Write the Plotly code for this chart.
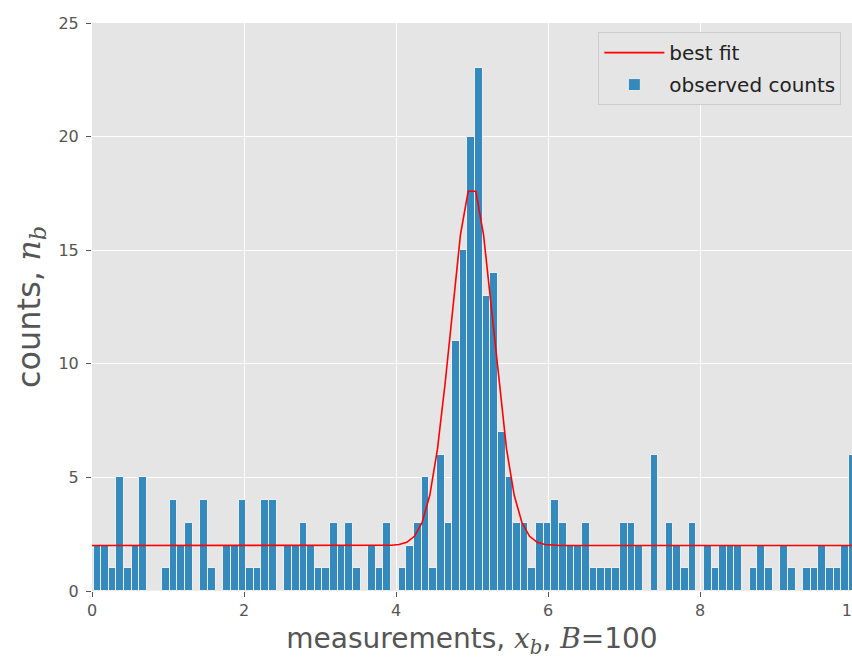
import numpy as np
import plotly.graph_objects as go

# Histogram of measurements: B = 100 bins
n_bins = 100
x_first_edge = 0.02
x_last_edge = 10.06
counts = [
    2, 2, 1, 5, 1, 2, 5, 0, 0, 1,
    4, 2, 3, 0, 4, 1, 0, 2, 2, 4,
    1, 1, 4, 4, 0, 2, 2, 3, 2, 1,
    1, 3, 2, 3, 1, 0, 2, 1, 3, 0,
    1, 2, 3, 5, 1, 6, 3, 11, 15, 20,
    23, 13, 14, 7, 5, 3, 3, 1, 3, 3,
    4, 3, 2, 2, 3, 1, 1, 1, 1, 3,
    3, 2, 0, 6, 0, 3, 2, 1, 3, 0,
    2, 1, 2, 2, 2, 0, 1, 2, 1, 0,
    2, 1, 0, 1, 1, 2, 1, 1, 2, 6,
]

# Best-fit model: constant background plus a Gaussian peak
fit_background = 2.0
fit_amplitude = 15.85
fit_center = 5.0
fit_sigma = 0.28
fit_points = 100

x_ticks = [0, 2, 4, 6, 8, 10]
y_ticks = [0, 5, 10, 15, 20, 25]

edges = np.linspace(x_first_edge, x_last_edge, n_bins + 1)
bin_left = edges[:-1]
bin_width = edges[1] - edges[0]

x_fit = np.linspace(0, 10, fit_points)
y_fit = fit_background + fit_amplitude * np.exp(-(x_fit - fit_center) ** 2 / (2 * fit_sigma ** 2))

fig = go.Figure()
fig.add_trace(go.Bar(
    x=bin_left, y=counts, width=bin_width, offset=0,
    marker=dict(color="#348ABD", line=dict(color="#EEEEEE", width=1)),
    name="observed counts", legendgroup="b", legendrank=2,
))
fig.add_trace(go.Scatter(
    x=x_fit, y=y_fit, mode="lines",
    line=dict(color="red", width=1.6),
    name="best fit", legendgroup="a", legendrank=1,
))

axis_font = dict(family="DejaVu Sans", size=16, color="#555555")
math = "font-family:'DejaVu Serif';font-style:italic"

fig.update_layout(
    width=852, height=659,
    margin=dict(l=92, r=0, t=23, b=68),
    paper_bgcolor="white",
    plot_bgcolor="#E5E5E5",
    bargap=0,
    showlegend=True,
    legend=dict(
        x=0.986, y=0.984, xanchor="right", yanchor="top",
        bgcolor="#E5E5E5", bordercolor="#CCCCCC", borderwidth=1,
        font=dict(family="DejaVu Sans", size=20, color="#222222"),
        traceorder="grouped", tracegroupgap=3, itemwidth=60,
    ),
    xaxis=dict(
        range=[0, 10], tickvals=x_ticks, ticktext=[str(v) for v in x_ticks],
        showgrid=True, gridcolor="white", gridwidth=1, zeroline=False,
        ticks="outside", ticklen=5, tickcolor="#555555", tickfont=axis_font,
        ticklabeloverflow="allow",
        showline=False, automargin=False,
        title=dict(
            text=f"measurements, <span style=\"{math}\">x</span><sub><span style=\"{math}\">b</span></sub>, "
                 f"<span style=\"{math}\">B</span>=100",
            font=dict(family="DejaVu Sans", size=28, color="#555555"), standoff=9,
        ),
    ),
    yaxis=dict(
        range=[0, 25], tickvals=y_ticks, ticktext=[str(v) for v in y_ticks],
        showgrid=True, gridcolor="white", gridwidth=1, zeroline=False,
        ticks="outside", ticklen=5, tickcolor="#555555", tickfont=axis_font,
        ticklabelstandoff=4,
        showline=False, automargin=False,
        title=dict(
            text=f"counts, <span style=\"{math}\">n</span><sub><span style=\"{math}\">b</span></sub>",
            font=dict(family="DejaVu Sans", size=32, color="#555555"), standoff=8,
        ),
    ),
)

fig.write_html("out.html")
